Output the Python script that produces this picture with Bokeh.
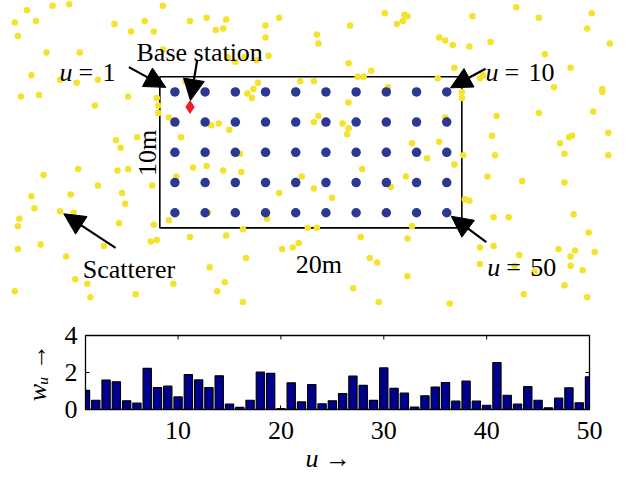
import numpy as np
from bokeh.plotting import figure
from bokeh.models import Range1d, Label, Arrow, NormalHead, FixedTicker, Title
from bokeh.embed import file_html
from bokeh.resources import INLINE

# ---------------- data: top panel (metres) ----------------
room_width = 20
room_height = 10
user_cols = [1, 3, 5, 7, 9, 11, 13, 15, 17, 19]
user_rows = [9, 7, 5, 3, 1]
base_station_x = [2]
base_station_y = [8]

scatter_x = [-7.1, -6.0, 0.2, -8.8, -9.6, -8.2, -3.0, -1.0, 2.0, 3.1, 4.4, 7.9, 7.0, -9.4, -1.9, -0.4, 3.7, 4.2,
             7.0, 10.4, -7.5, -5.3, 0.2, 4.5, 5.0, 5.6, 6.4, 7.2, 10.5, -8.5, -6.6, -5.5, -4.1, -9.2, -8.0, -2.1,
             -4.3, 1.7, 6.5, 6.2, 5.8, 6.1, 9.3, 10.2, -0.2, -0.1, -0.1, 0.6, 3.4, 3.9, 4.6, 1.4, -2.9, -2.6,
             -1.5, 5.3, 10.2, 10.5, 23.6, 14.9, 16.2, 16.4, 16.1, 15.7, 20.7, 25.1, 28.6, 12.6, 28.3, 18.5, 18.9,
             19.4, 20.5, 21.9, 29.8, 12.5, 14.0, 19.5, 25.5, 27.2, 13.1, 13.5, 18.4, 21.2, 21.4, 26.1, 29.3, 29.3,
             15.1, 20.0, 20.0, 12.5, 25.1, 28.7, 22.3, 12.1, 12.5, 12.4, 18.9, 22.0, 29.7, 26.5, 27.3, 27.1, 16.7,
             18.5, 17.7, 20.1, 22.2, 26.8, 29.7, -5.4, -7.7, -2.8, -2.1, 2.2, 3.1, 4.2, 5.4, -4.1, -0.5, 1.1, 9.4,
             10.2, -8.5, -5.9, -2.5, -2.3, 7.9, -8.3, -6.6, -5.7, 3.2, -9.3, -9.4, -2.7, -0.4, 0.6, 7.1, 5.5, 9.8,
             10.4, -0.6, -0.2, 2.0, 4.4, -9.4, -7.9, -3.7, -6.2, 8.1, 8.8, 9.2, 5.7, 3.3, -5.6, -4.8, -9.6, -4.6,
             -1.6, 0.9, 3.8, 4.3, 5.5, 19.5, 13.4, 21.7, 24.0, 26.8, 15.3, 16.3, 11.4, 20.2, 20.5, 22.1, 23.1,
             27.4, 28.4, 13.3, 16.4, 16.7, 21.2, 22.1, 13.9, 14.4, 21.2, 23.5, 23.8, 24.8, 26.4, 27.2, 27.5, 28.8,
             27.2, 28.0, 16.4, 26.8, 12.8, 24.1, 28.3, 14.5, 19.2]
scatter_y = [14.7, 14.8, 14.7, 14.4, 13.6, 13.7, 13.5, 13.7, 13.7, 13.9, 13.8, 13.9, 13.4, 12.7, 13.0, 13.0, 13.1,
             13.2, 12.6, 12.8, 11.6, 11.6, 11.8, 11.3, 11.0, 11.3, 11.1, 11.4, 12.2, 10.1, 9.8, 9.6, 9.8, 8.7, 8.8,
             8.7, 8.1, 9.7, 9.6, 9.2, 8.9, 8.6, 9.7, 9.7, 8.6, 8.1, 7.6, 7.3, 6.8, 6.9, 6.5, 6.0, 5.8, 5.3, 6.0,
             4.9, 7.0, 7.4, 14.6, 14.2, 14.1, 14.0, 13.7, 13.5, 14.0, 13.9, 14.2, 13.4, 13.2, 12.6, 12.4, 12.1,
             12.0, 12.3, 12.2, 10.9, 10.4, 10.6, 11.5, 10.6, 10.0, 10.0, 9.9, 9.9, 10.1, 9.3, 9.2, 9.0, 9.3, 9.0,
             8.6, 8.3, 7.6, 7.7, 7.4, 6.9, 6.6, 6.2, 7.3, 6.1, 6.3, 5.6, 6.1, 6.0, 5.6, 5.7, 4.6, 4.8, 4.8, 4.9,
             4.8, 3.9, 3.5, 3.8, 3.9, 4.0, 4.1, 3.8, 3.7, 2.8, 2.8, 3.4, 3.4, 2.6, 2.1, 2.2, 2.3, 1.6, 2.3, 1.3,
             1.1, 1.0, 1.0, 0.6, 0.1, 0.3, 0.2, 0.5, 0.6, -0.1, 0.0, 0.0, -0.9, -0.8, -0.6, -0.5, -1.4, -1.1, -1.2,
             -1.9, -1.4, -1.3, -1.0, -2.0, -2.6, -3.4, -3.7, -4.2, -4.6, -4.4, -3.7, -4.2, -3.6, -4.9, 4.2, 3.9,
             3.4, 3.1, 3.0, 2.7, 3.4, 2.0, 1.9, 1.8, 0.7, 0.7, 0.9, -0.3, -0.6, -0.7, 0.1, -1.3, -1.2, -2.0, -2.3,
             -2.4, -2.5, -1.8, -2.9, -1.4, -1.9, -1.5, -1.6, -2.5, -2.8, -3.2, -3.8, -4.0, -4.4, -4.6, -4.9, -5.0]

# ---------------- data: bottom panel ----------------
user_index = list(range(1, 51))
weights = [1.03, 0.50, 1.59, 1.50, 0.47, 0.34, 2.22, 1.19, 1.26, 0.68,
           1.89, 1.60, 1.19, 1.82, 0.29, 0.11, 0.50, 2.02, 1.95, 0.05,
           1.44, 0.41, 1.35, 0.31, 0.47, 0.86, 1.80, 1.30, 0.49, 2.25,
           1.14, 0.88, 0.13, 0.74, 1.21, 1.46, 0.45, 1.53, 0.45, 0.23,
           2.54, 0.77, 0.29, 1.24, 0.50, 0.09, 0.61, 1.17, 0.36, 1.77]
x_ticks = [10, 20, 30, 40, 50]
y_ticks = [0, 2, 4]

SERIF = "Liberation Serif"
FS = "26px"

# ---------------- top panel ----------------
top = figure(width=627, height=318, x_range=Range1d(-10.55, 30.97), y_range=Range1d(-6.0, 15.05),
             output_backend="svg", toolbar_location=None, min_border=0,
             x_axis_location=None, y_axis_location=None)
top.grid.visible = False
top.outline_line_color = None

top.quad(left=[0], right=[room_width], bottom=[0], top=[room_height],
         fill_color=None, line_color="black", line_width=1.6)

ux = [c for r in user_rows for c in user_cols]
uy = [r for r in user_rows for c in user_cols]

top.scatter(scatter_x, scatter_y, size=6.5, color="#F5E22A", line_color=None)
top.scatter(ux, uy, size=9.5, color="#2B3990", line_color=None)
top.scatter(base_station_x, base_station_y, marker="diamond", size=14, color="#EE1C25", line_color=None)

def arrow(xs, ys, xe, ye):
    top.add_layout(Arrow(end=NormalHead(size=21, fill_color="black", line_color="black", line_width=1),
                         x_start=xs, y_start=ys, x_end=xe, y_end=ye,
                         line_color="black", line_width=2.2))

arrow(-2.05, 10.64, 0.4, 9.3)      # u = 1
arrow(2.48, 11.13, 2.03, 8.43)     # base station
arrow(21.57, 10.53, 19.25, 9.27)   # u = 10
arrow(21.62, -0.95, 19.30, 0.77)   # u = 50
arrow(-2.93, -1.32, -6.36, 0.93)   # scatterer

def lab(fig, x, y, text, align="left", style="normal", xoff=0, angle=0, baseline="alphabetic"):
    fig.add_layout(Label(x=x, y=y, text=text, text_font=SERIF, text_font_size=FS,
                         text_font_style=style, text_align=align, text_baseline=baseline,
                         x_offset=xoff, angle=angle, text_color="black"))

for (x0, y0, num) in [(-6.64, 10.28, "1"), (21.57, 10.30, "10"), (21.68, -2.61, "50")]:
    lab(top, x0, y0, "u", style="italic")
    lab(top, x0, y0, "=", xoff=19)
    lab(top, x0, y0, num, xoff=43)

lab(top, 2.64, 11.63, "Base station", align="center")
lab(top, -2.04, -2.76, "Scatterer", align="center")
lab(top, 10.54, -2.45, "20m", align="center")
lab(top, -0.81, 4.96, "10m", align="center", angle=np.pi / 2)

# ---------------- bottom panel ----------------
bot = figure(width=627, height=166, x_range=Range1d(1, 50), y_range=Range1d(0, 4),
             output_backend="svg", toolbar_location=None,
             min_border_left=85, min_border_right=38, min_border_top=17, min_border_bottom=75)
bot.grid.visible = False
bot.outline_line_color = "black"
bot.outline_line_width = 1.3
bot.vbar(x=user_index, top=weights, width=0.8, fill_color="#00008F", line_color="black", line_width=1.2)

for ax, tk, so in [(bot.xaxis[0], x_ticks, 12), (bot.yaxis[0], y_ticks, 8)]:
    ax.ticker = FixedTicker(ticks=tk)
    ax.minor_tick_line_color = None
    ax.major_tick_in = 4
    ax.major_tick_out = 0
    ax.major_tick_line_color = "black"
    ax.axis_line_color = "black"
    ax.major_label_text_font = SERIF
    ax.major_label_text_font_size = FS
    ax.major_label_text_color = "black"
    ax.major_label_standoff = so

bot.yaxis.axis_label = "wᵤ →"
bot.yaxis.axis_label_text_font = SERIF
bot.yaxis.axis_label_text_font_style = "italic"
bot.yaxis.axis_label_text_font_size = FS
bot.yaxis.axis_label_text_color = "black"
bot.yaxis.axis_label_standoff = 10

# mirrored inward ticks on the top and right edges of the box
tick_px = 4
xt_len = tick_px * (4 - 0) / 74
yt_len = tick_px * (50 - 1) / 504
bot.segment(x0=x_ticks, x1=x_ticks, y0=[4] * len(x_ticks), y1=[4 - xt_len] * len(x_ticks),
            line_color="black", line_width=1)
bot.segment(x0=[50] * len(y_ticks), x1=[50 - yt_len] * len(y_ticks), y0=y_ticks, y1=y_ticks,
            line_color="black", line_width=1)

bot.add_layout(Title(text="u →", align="left", offset=220, standoff=0,
                     text_font=SERIF, text_font_size=FS, text_font_style="italic",
                     text_color="black"), "below")

open("out.html", "w").write(file_html([top, bot], INLINE))
